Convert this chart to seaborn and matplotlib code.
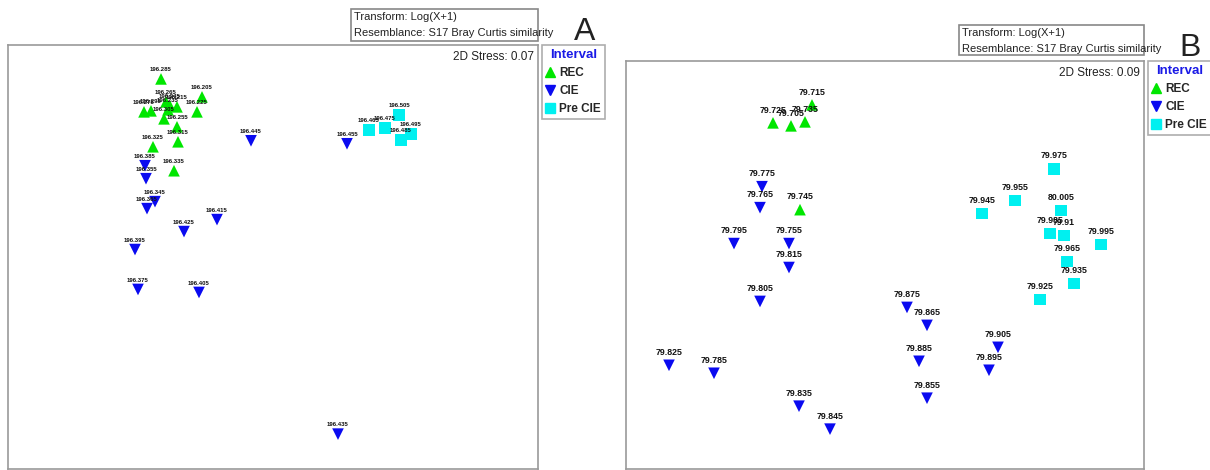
import matplotlib
matplotlib.use("Agg")
import matplotlib.pyplot as plt
import seaborn as sns
import pandas as pd
from matplotlib.lines import Line2D

sns.set_style("white")
plt.rcParams["font.family"] = ["Liberation Sans", "DejaVu Sans"]

# Panel A (Bray Curtis nMDS, ages as labels), coordinates
a_labels = ["196.285", "196.205", "196.225", "196.275", "196.295", "196.265", "196.245",
            "196.215", "196.305", "196.235", "196.255", "196.315", "196.325", "196.335",
            "196.385", "196.355", "196.345", "196.365", "196.425", "196.415", "196.395",
            "196.375", "196.405", "196.445", "196.455", "196.435",
            "196.505", "196.465", "196.475", "196.495", "196.485"]
a_x = [161, 202, 197, 144, 151, 166, 170, 177, 164, 168, 177, 178, 153, 174,
       145, 146, 155, 147, 184, 217, 135, 138, 199, 251, 347, 338,
       399, 369, 385, 411, 401]
a_y = [79, 97, 112, 112, 111, 102, 106, 107, 119, 110, 127, 142, 147, 171,
       166, 179, 202, 209, 232, 220, 250, 290, 293, 141, 144, 435,
       115, 130, 128, 134, 140]
a_group = ["REC"] * 14 + ["CIE"] * 12 + ["Pre CIE"] * 5

# Panel B
b_labels = ["79.715", "79.725", "79.705", "79.735", "79.745",
            "79.775", "79.765", "79.795", "79.755", "79.815", "79.805", "79.875", "79.865",
            "79.905", "79.895", "79.885", "79.855", "79.825", "79.785", "79.835", "79.845",
            "79.975", "79.955", "79.945", "80.005", "79.985", "79.91", "79.995", "79.965",
            "79.935", "79.925"]
b_x = [812, 773, 791, 805, 800,
       762, 760, 734, 789, 789, 760, 907, 927, 998, 989, 919, 927, 669, 714, 799, 830,
       1054, 1015, 982, 1061, 1050, 1064, 1101, 1067, 1074, 1040]
b_y = [105, 123, 126, 122, 210,
       187, 208, 244, 244, 268, 302, 308, 326, 348, 371, 362, 399, 366, 374, 407, 430,
       169, 201, 214, 211, 234, 236, 245, 262, 284, 300]
b_group = ["REC"] * 5 + ["CIE"] * 16 + ["Pre CIE"] * 10

groups = ["REC", "CIE", "Pre CIE"]
colors = {"REC": "#00e600", "CIE": "#0a0af0", "Pre CIE": "#00f0f0"}
markers = {"REC": "^", "CIE": "v", "Pre CIE": "s"}

W, H = 1210, 470
fig = plt.figure(figsize=(12.1, 4.7), dpi=100)


def fx(px):
    return px / W


def fy(py):
    return 1 - py / H


def panel(box, labels, xs, ys, grp, lab_size, lab_off, stress, tbox, letter, legbox):
    left, top, right = box
    ax = fig.add_axes([fx(left), 0.002, fx(right) - fx(left), fy(top) - 0.002])
    df = pd.DataFrame({"x": xs, "y": ys, "group": grp, "label": labels})
    sns.scatterplot(data=df, x="x", y="y", hue="group", style="group", palette=colors,
                    markers=markers, hue_order=groups, style_order=groups,
                    s=70, linewidth=0, legend=False, ax=ax)
    for _, r in df.iterrows():
        ax.annotate(r["label"], (r["x"], r["y"]), xytext=(0, lab_off), textcoords="offset points",
                    ha="center", va="bottom", fontsize=lab_size, fontweight="bold", color="#111111")
    ax.set_xlim(left, right)
    ax.set_ylim(H, top)
    ax.set_xticks([])
    ax.set_yticks([])
    ax.set_xlabel("")
    ax.set_ylabel("")
    for sp in ax.spines.values():
        sp.set_color("#999999")
        sp.set_linewidth(1.2)
    ax.text(0.993, 1 - 12 / (H - top), stress, transform=ax.transAxes, ha="right", va="center",
            fontsize=8.5, color="#222222")

    # transform / resemblance box
    tx0, ty0, tx1, ty1 = tbox
    fig.patches.append(plt.Rectangle((fx(tx0), fy(ty1)), fx(tx1) - fx(tx0), fy(ty0) - fy(ty1),
                                     transform=fig.transFigure, fill=False, edgecolor="#888888",
                                     linewidth=1.2))
    fig.text(fx(tx0 + 3), fy(ty0 + 8), "Transform: Log(X+1)", fontsize=8, va="center", color="#222222")
    fig.text(fx(tx0 + 3), fy(ty0 + 24), "Resemblance: S17 Bray Curtis similarity", fontsize=8,
             va="center", color="#222222")
    fig.text(fx(letter[0]), fy(letter[1]), letter[2], fontsize=23, ha="center", va="center", color="#222222")

    # legend
    handles = [Line2D([], [], linestyle="", marker=markers[g], color=colors[g], markersize=7.5) for g in groups]
    leg = ax.legend(handles, groups, title="Interval", loc="upper left",
                    bbox_to_anchor=(fx(legbox[0]), fy(legbox[1])), bbox_transform=fig.transFigure,
                    borderaxespad=0, frameon=True, fancybox=False, edgecolor="#999999", borderpad=0.35,
                    handlelength=0.7, handletextpad=0.4, labelspacing=0.5,
                    prop={"weight": "bold", "size": 8.5})
    leg.get_title().set_color("#1a1ae6")
    leg.get_title().set_fontweight("bold")
    leg.get_title().set_fontsize(9.5)
    leg.get_frame().set_linewidth(1.2)
    return ax


panel((8, 45, 538), a_labels, a_x, a_y, a_group, 4.3, 5, "2D Stress: 0.07",
      (351, 9, 538, 41), (585, 32, "A"), (542, 45))
panel((626, 61, 1144), b_labels, b_x, b_y, b_group, 6.3, 6, "2D Stress: 0.09",
      (959, 25, 1144, 55), (1190, 48, "B"), (1148, 61))

fig.savefig("out.png", dpi=100)
